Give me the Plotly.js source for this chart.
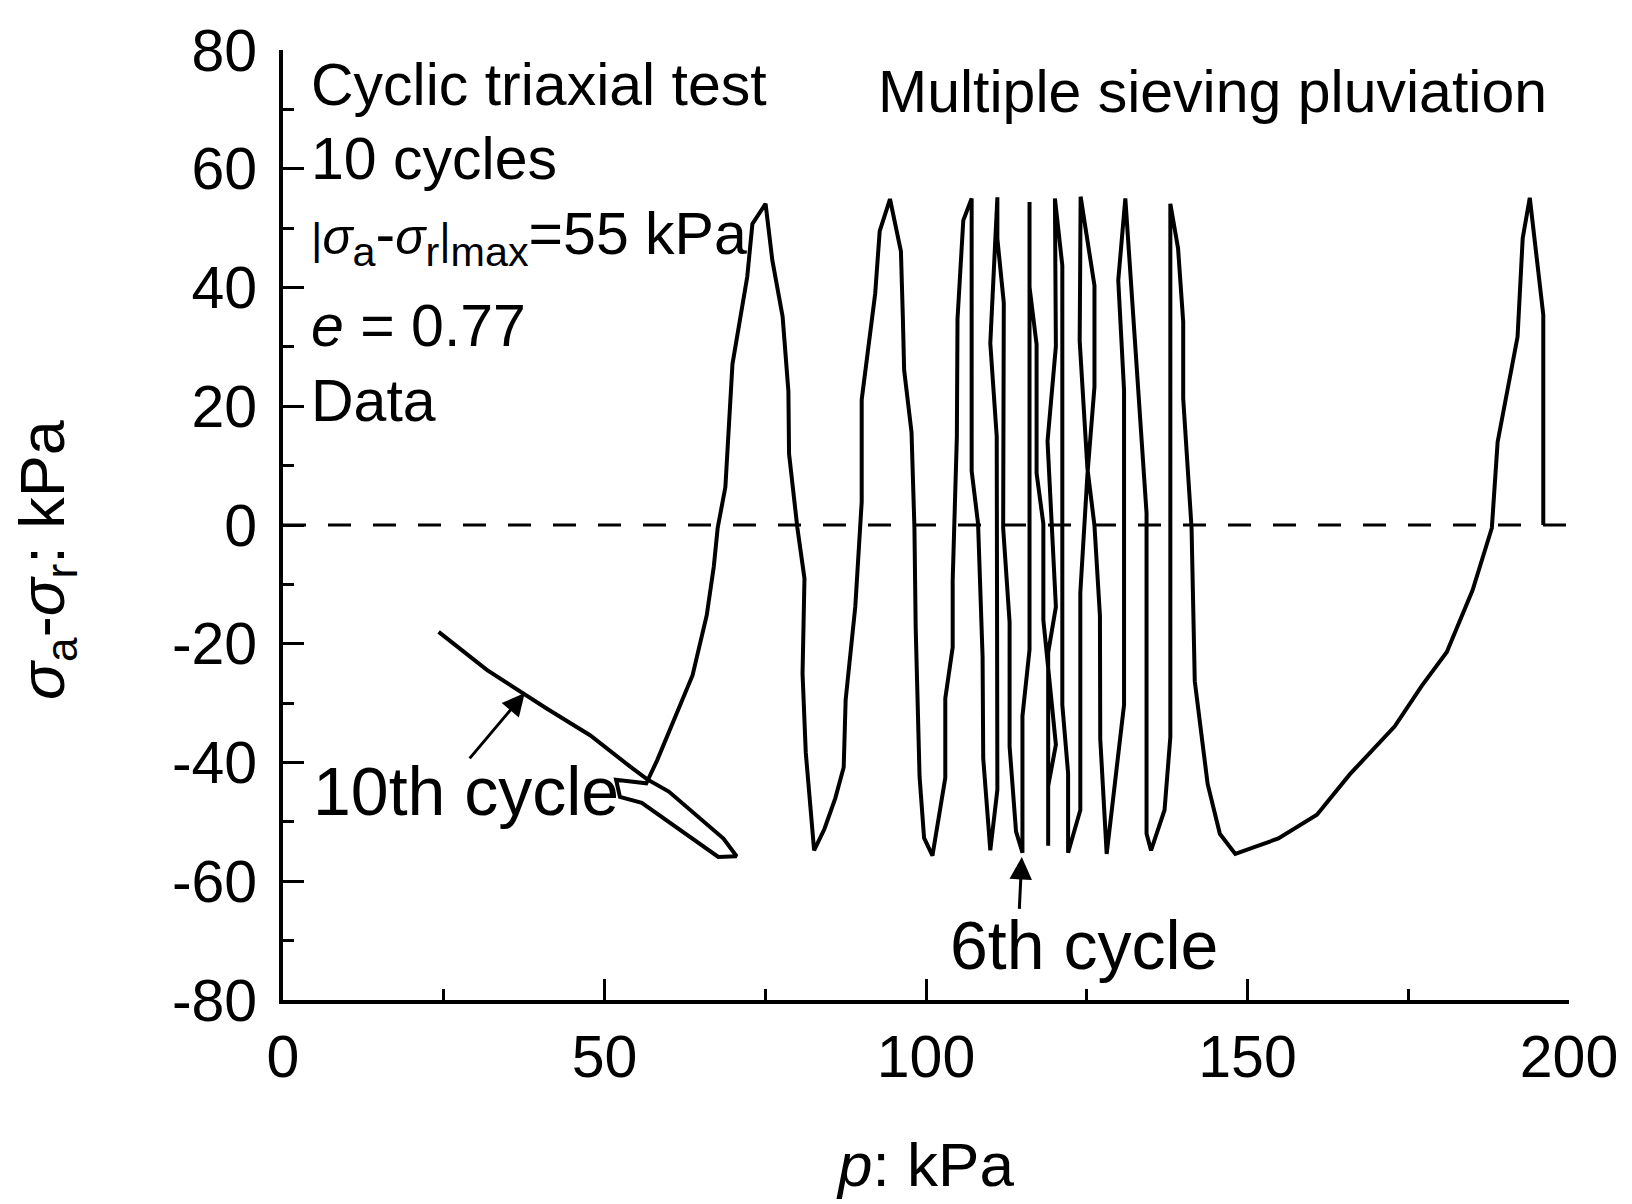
<!DOCTYPE html>
<html>
<head>
<meta charset="utf-8">
<script src="https://cdn.plot.ly/plotly-3.0.1.min.js"></script>
<style>
  html, body { margin: 0; padding: 0; background: #ffffff; }
  #chart { width: 1632px; height: 1204px; }
</style>
</head>
<body>
<div id="chart"></div>
<script>
// Stress path (time order: starts at right, ends at left)
const pValues = [
  196.0, 196.0, 193.9, 192.8, 192.0, 188.9, 188.0, 185.0, 181.0, 177.1,
  172.9, 165.9, 160.8, 154.8, 151.7, 148.1, 145.7, 143.8, 141.8, 141.3,
  140.0, 140.0, 139.2, 138.0, 138.0, 137.1, 135.0, 134.3, 134.3, 132.6,
  131.0, 129.9, 130.8, 130.8, 128.1, 127.1, 127.05, 126.2, 125.1, 123.9,
  124.05, 126.2, 126.2, 125.1, 124.0, 124.0, 122.1, 122.1, 121.2, 121.2,
  120.05, 120.2, 118.9, 120.2, 119.0, 119.0, 119.0, 120.2, 118.25, 118.25,
  117.2, 117.2, 116.1, 116.1, 116.1, 115.0, 115.0, 114.0, 113.0, 113.0,
  112.0, 112.1, 111.1, 111.1, 110.0, 111.0, 111.1, 110.0, 108.9, 108.8,
  108.1, 107.1, 107.1, 105.8, 104.9, 104.8, 104.15, 104.15, 103.0, 103.0,
  101.0, 99.7, 99.0, 98.4, 98.2, 97.75, 96.6, 96.4, 96.1, 94.4,
  92.8, 92.1, 90.0, 90.0, 89.0, 87.5, 87.2, 85.9, 84.2, 82.6,
  81.3, 80.8, 81.1, 80.0, 78.7, 78.6, 77.7, 76.1, 75.05, 73.0,
  72.2, 69.9, 68.8, 67.6, 67.0, 65.9, 63.7, 58.2, 56.5, 51.8,
  52.4, 55.8, 63.3, 67.7, 70.55, 68.5, 60.0, 56.6, 54.0, 47.75,
  41.0, 37.4, 31.7, 24.2
];
const qValues = [
  0.0, 35.4, 55.1, 48.3, 31.7, 14.0, -0.5, -11.0, -21.4, -27.1,
  -33.9, -42.0, -48.8, -52.8, -54.0, -55.4, -52.0, -43.6, -26.3, -0.5,
  21.3, 34.2, 46.6, 54.1, -35.7, -48.0, -54.8, -52.0, 2.0, 30.0,
  55.0, 41.2, 22.7, -30.3, -55.4, -36.0, -15.3, -0.1, 9.6, 31.0,
  55.3, 40.3, 23.3, 8.4, -11.4, -48.0, -55.2, -41.8, -30.3, 43.7,
  55.0, 30.1, 14.1, -13.8, -21.5, -54.0, -44.0, -37.0, -16.0, 0.2,
  8.7, 30.4, 40.1, 54.4, -21.0, -32.2, -55.2, -51.6, -37.3, -16.4,
  -0.5, 37.4, 48.2, 55.2, 30.6, 14.9, -44.6, -54.8, -39.3, -22.2,
  0.2, 9.1, 55.0, 51.3, 34.7, 14.9, -9.4, -20.6, -29.2, -42.6,
  -55.7, -52.7, -42.4, -17.4, -0.5, 15.6, 26.1, 35.0, 46.1, 54.9,
  49.5, 39.0, 21.1, 3.9, -13.8, -29.5, -40.8, -46.0, -51.2, -54.8,
  -38.3, -25.0, -9.0, -0.5, 12.0, 22.5, 35.1, 44.6, 54.1, 50.7,
  41.8, 27.1, 6.4, -0.5, -7.0, -15.2, -25.3, -39.6, -43.5, -42.9,
  -45.8, -46.8, -52.5, -55.9, -55.8, -52.8, -44.9, -42.8, -40.7, -35.4,
  -30.9, -28.4, -24.4, -18.0
];

// Axis ticks
const xTickValues = [0, 50, 100, 150, 200];
const xTickLabels = ['0', '50', '100', '150', '200'];
const yTickValues = [-80, -60, -40, -20, 0, 20, 40, 60, 80];
const yTickLabels = ['-80', '-60', '-40', '-20', '0', '20', '40', '60', '80'];

// Text labels
const SIG = '<span style="font-size:50px"><i>σ</i></span>';
const BAR = '<span style="font-size:44px">|</span>';
const infoLines = [
  'Cyclic triaxial test',
  '10 cycles',
  BAR + SIG + '<sub>a</sub>-' + SIG + '<sub>r</sub>' + BAR + '<sub>max</sub>=55 kPa',
  '<i>e</i> = 0.77',
  'Data'
];
const infoY = [74.1, 61.6, 48.4, 33.5, 20.9];
const methodLabel = 'Multiple sieving pluviation';
const cycleLabels = ['10th cycle', '6th cycle'];
const cycleLabelPos = [[4.3, -44.8], [103.4, -70.7]];
const cycleArrowTips = [[37.6, -28.3], [114.9, -55.9]];
const cycleArrowTails = [[28.8, -39.6], [114.5, -65.0]];

const FONT = 'Liberation Sans, Arial, Helvetica, sans-serif';
const FS = 59;
const FS_CYCLE = 68;

const annotations = [];
infoLines.forEach((t, i) => {
  annotations.push({
    x: 4.0, y: infoY[i], xref: 'x', yref: 'y', text: t, showarrow: false,
    xanchor: 'left', yanchor: 'middle', font: {family: FONT, size: FS, color: '#000'}
  });
});
annotations.push({
  x: 92.2, y: 72.9, xref: 'x', yref: 'y', text: methodLabel, showarrow: false,
  xanchor: 'left', yanchor: 'middle', font: {family: FONT, size: FS, color: '#000'}
});
cycleLabels.forEach((t, i) => {
  annotations.push({
    x: cycleLabelPos[i][0], y: cycleLabelPos[i][1], xref: 'x', yref: 'y', text: t,
    showarrow: false, xanchor: 'left', yanchor: 'middle',
    font: {family: FONT, size: FS_CYCLE, color: '#000'}
  });
  annotations.push({
    x: cycleArrowTips[i][0], y: cycleArrowTips[i][1], xref: 'x', yref: 'y',
    ax: cycleArrowTails[i][0], ay: cycleArrowTails[i][1], axref: 'x', ayref: 'y',
    text: ' ', showarrow: true, arrowhead: 2, arrowsize: 1.5, arrowwidth: 3,
    arrowcolor: '#000', font: {size: 1}
  });
});

const trace = {
  x: pValues, y: qValues, type: 'scatter', mode: 'lines',
  line: {color: '#000', width: 4}, hoverinfo: 'skip', showlegend: false
};

const layout = {
  width: 1632, height: 1204,
  margin: {l: 283, r: 63, t: 50, b: 204, pad: 0},
  paper_bgcolor: '#fff', plot_bgcolor: '#fff',
  font: {family: FONT, size: FS, color: '#000'},
  showlegend: false,
  xaxis: {
    range: [0, 200], tickmode: 'array', tickvals: xTickValues, ticktext: xTickLabels,
    ticks: 'inside', ticklen: 21, tickwidth: 3, tickcolor: '#000',
    minor: {ticks: 'inside', ticklen: 11, tickwidth: 3, tickcolor: '#000', dtick: 25, showgrid: false},
    showline: true, linewidth: 4, linecolor: '#000', mirror: false,
    showgrid: false, zeroline: false, ticklabelstandoff: 2,
    tickfont: {family: FONT, size: FS, color: '#000'},
    title: {text: '<i>p</i>: kPa', font: {family: FONT, size: 62, color: '#000'}, standoff: 55}
  },
  yaxis: {
    range: [-80, 80], tickmode: 'array', tickvals: yTickValues, ticktext: yTickLabels,
    ticks: 'inside', ticklen: 21, tickwidth: 3, tickcolor: '#000',
    minor: {ticks: 'inside', ticklen: 11, tickwidth: 3, tickcolor: '#000', dtick: 10, showgrid: false},
    showline: true, linewidth: 4, linecolor: '#000', mirror: false,
    showgrid: false, zeroline: false, ticklabelstandoff: 10,
    tickfont: {family: FONT, size: FS, color: '#000'},
    title: {text: '<i>σ</i><sub>a</sub>-<i>σ</i><sub>r</sub>: kPa&nbsp;&nbsp;&nbsp;&nbsp;', font: {family: FONT, size: 63, color: '#000'}, standoff: 88}
  },
  shapes: [{
    type: 'line', xref: 'paper', yref: 'paper', x0: 0, x1: 1.0086, y0: 0.5, y1: 0.5,
    line: {color: '#000', width: 3.2, dash: '23px,22px'}, layer: 'below'
  }],
  annotations: annotations
};

Plotly.newPlot('chart', [trace], layout, {staticPlot: true, displayModeBar: false});
</script>
</body>
</html>
